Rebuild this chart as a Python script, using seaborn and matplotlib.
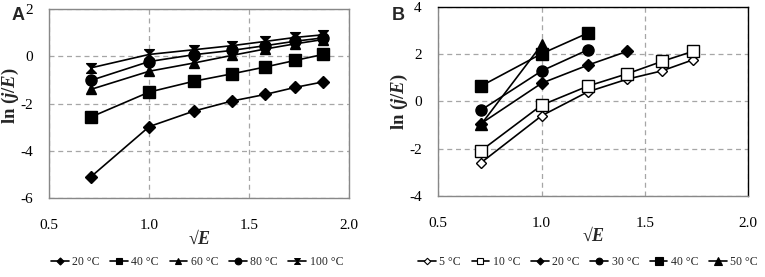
import numpy as np
import pandas as pd
import seaborn as sns
import matplotlib.pyplot as plt
from matplotlib.path import Path
from matplotlib.lines import Line2D

sns.set_theme(style="white")
plt.rcParams['font.family'] = ['Liberation Serif', 'DejaVu Serif']
plt.rcParams['mathtext.fontset'] = 'custom'
plt.rcParams['mathtext.rm'] = 'Liberation Serif'
plt.rcParams['mathtext.it'] = 'Liberation Serif:italic'
plt.rcParams['mathtext.bf'] = 'Liberation Serif:bold'
plt.rcParams['mathtext.bfit'] = 'Liberation Serif:bold:italic'

# ---------------- data ----------------
sqrtE = [0.707, 1.0, 1.225, 1.414, 1.581, 1.732, 1.871]

a_labels = ["20 °C", "40 °C", "60 °C", "80 °C", "100 °C"]
a_20 = [-5.10, -2.97, -2.31, -1.89, -1.61, -1.31, -1.08]
a_40 = [-2.57, -1.51, -1.05, -0.74, -0.45, -0.17, 0.08]
a_60 = [-1.40, -0.63, -0.28, 0.04, 0.31, 0.53, 0.71]
a_80 = [-1.02, -0.22, 0.07, 0.25, 0.45, 0.64, 0.78]
a_100 = [-0.49, 0.08, 0.28, 0.45, 0.63, 0.80, 0.91]

b_labels = ["5 °C", "10 °C", "20 °C", "30 °C", "40 °C", "50 °C"]
b_5 = [-2.60, -0.61, 0.41, 0.94, 1.29, 1.76]
b_10 = [-2.09, -0.16, 0.65, 1.17, 1.69, 2.12]
b_20 = [-0.94, 0.77, 1.54, 2.12]
b_30 = [-0.37, 1.29, 2.19]
b_40 = [0.65, 2.02, 2.90]
b_50 = [-0.98, 2.40]

x_ticks = [0.5, 1.0, 1.5, 2.0]
a_yticks = [-6, -4, -2, 0, 2]
b_yticks = [-4, -2, 0, 2, 4]

# hourglass marker
hourglass = Path([(-1, 1), (1, 1), (-1, -1), (1, -1), (-1, 1)],
                 [Path.MOVETO, Path.LINETO, Path.LINETO, Path.LINETO, Path.CLOSEPOLY])

fig = plt.figure(figsize=(7.65, 2.77), dpi=100)
axA = fig.add_axes([49.3/765, 1-198.3/277, (349-49.3)/765, (198.3-9)/277])
axB = fig.add_axes([438.3/765, 1-195.7/277, (748.3-438.3)/765, (195.7-7)/277])

a_series = [a_20, a_40, a_60, a_80, a_100]
a_marks = [dict(marker='D', ms=6, mfc='black'),
           dict(marker='s', ms=8, mfc='black'),
           dict(marker='^', ms=7.5, mfc='black'),
           dict(marker='o', ms=8, mfc='black'),
           dict(marker=hourglass, ms=7, mfc='black')]

b_series = [b_5, b_10, b_20, b_30, b_40, b_50]
b_marks = [dict(marker='D', ms=5.5, mfc='white'),
           dict(marker='s', ms=8, mfc='white'),
           dict(marker='D', ms=6, mfc='black'),
           dict(marker='o', ms=8, mfc='black'),
           dict(marker='s', ms=8.5, mfc='black'),
           dict(marker='^', ms=8.5, mfc='black')]


def draw(ax, series, labels, marks):
    handles = []
    for ys, lab, mk in zip(series, labels, marks):
        df = pd.DataFrame({'x': sqrtE[:len(ys)], 'y': ys})
        sns.lineplot(data=df, x='x', y='y', ax=ax, color='black', lw=1.2,
                     marker=mk['marker'], markersize=mk['ms'],
                     markerfacecolor=mk['mfc'], markeredgecolor='black',
                     markeredgewidth=1.0, legend=False)
        handles.append(Line2D([], [], color='black', lw=1.2, marker=mk['marker'],
                              markersize=mk['ms'] * 0.6, markerfacecolor=mk['mfc'],
                              markeredgecolor='black', markeredgewidth=0.8, label=lab))
    return handles


hA = draw(axA, a_series, a_labels, a_marks)
hB = draw(axB, b_series, b_labels, b_marks)

for ax, yt, hs, cx, lx, ly in [(axA, a_yticks, hA, 197/765, -0.13, 0.54),
                               (axB, b_yticks, hB, 588/765, -0.124, 0.5)]:
    ax.set_xlim(0.5, 2.0)
    ax.set_ylim(yt[0], yt[-1])
    ax.set_xticks(x_ticks)
    ax.set_xticklabels([f"{v:.1f}" for v in x_ticks])
    ax.set_yticks(yt)
    ax.set_yticklabels([str(v) for v in yt])
    ax.grid(True, color='#a6a6a6', ls=(0, (4, 3)), lw=0.9)
    ax.tick_params(axis='both', labelsize=11, colors='black', length=3,
                   direction='out', width=0.8, pad=4)
    ax.tick_params(axis='both', color='#888888')
    ax.tick_params(axis='x', pad=12)
    ax.tick_params(axis='y', pad=9)
    ax.set_xlabel('√$\\boldsymbol{E}$', fontsize=13, fontweight='bold', labelpad=-2)
    ax.set_ylabel('')
    ax.text(lx, ly, r'$\mathbf{ln}\ \mathbf{(}\boldsymbol{j/E}\mathbf{)}$',
            transform=ax.transAxes, rotation=90, ha='center', va='center', fontsize=13.5)
    for s in ax.spines.values():
        s.set_color('#888888')
        s.set_linewidth(1.0)
    fig.legend(handles=hs, loc='center', bbox_to_anchor=(cx, 1-262/277), ncol=len(hs),
               frameon=False, fontsize=8.5, handlelength=1.5, handletextpad=0.3,
               columnspacing=0.9)

axB.spines['top'].set_color('black')
axB.spines['right'].set_color('black')

fig.text(12/765, 1-16/277, 'A', fontsize=13, fontweight='bold', family='Liberation Sans',
         ha='left', va='center')
fig.text(392/765, 1-16/277, 'B', fontsize=13, fontweight='bold', family='Liberation Sans',
         ha='left', va='center')

fig.savefig('out.png', dpi=100)
